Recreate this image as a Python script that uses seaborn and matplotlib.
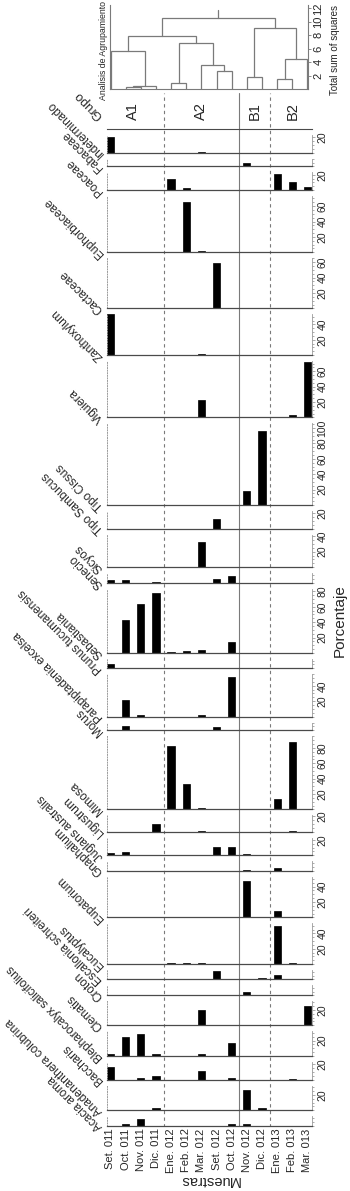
import numpy as np
import pandas as pd
import matplotlib
matplotlib.use('Agg')
import matplotlib.pyplot as plt
from matplotlib.ticker import MultipleLocator
from matplotlib import font_manager
import seaborn as sns

samples = ['Set. 011', 'Oct. 011', 'Nov. 011', 'Dic. 011', 'Ene. 012', 'Feb. 012', 'Mar. 012',
           'Set. 012', 'Oct. 012', 'Nov. 012', 'Dic. 012', 'Ene. 013', 'Feb. 013', 'Mar. 013']
groups = ['A1'] * 4 + ['A2'] * 5 + ['B1'] * 2 + ['B2'] * 3

# porcentajes por taxon (mismo orden que samples)
indeterminado = [21, 0, 0, 0, 0, 0, 1.3, 0, 0, 0, 0, 0, 0, 0]
fabaceae = [0, 0, 0, 0, 0, 0, 0, 0, 0, 5, 0, 0, 0.3, 0]
poaceae = [0, 0, 0, 0, 14, 2.6, 0, 0, 0, 0, 0, 20.5, 10.5, 4.3]
euphorbiaceae = [0, 0, 0, 0, 0, 65, 1.5, 0, 0, 0, 0, 0, 0, 0]
cactaceae = [0, 0, 0, 0, 0, 0, 0, 59, 0, 0, 0, 0, 0, 0]
zanthoxylum = [53, 0, 0, 0, 0, 0, 1.3, 0, 0, 0, 0, 0, 0, 0]
viguiera = [0, 0, 0, 0, 0, 0, 22, 0, 0, 0, 0, 0, 2.5, 72]
tipo_cissus = [0, 0, 0, 0, 0, 0, 0, 0, 0, 18, 96.5, 0, 0.3, 0]
tipo_sambucus = [0, 0, 0, 0, 0, 0, 0, 13, 0, 0, 0, 0, 0, 0]
sicyos = [0, 0, 0, 0, 0, 0, 32.5, 0, 0, 0, 0, 0, 0.3, 0]
senecio = [3.9, 3.9, 0, 1.7, 0, 0, 0, 5.2, 9.5, 0, 0, 0, 0, 0]
sebastiania = [0, 43, 64, 77.5, 1.7, 2.6, 4.3, 0, 14, 0.3, 0, 0, 0, 0]
prunus = [5.2, 0, 0, 0, 0, 0, 0, 0, 0, 0, 0, 0, 0, 0]
parapiptadenia = [0, 21.6, 2.2, 0, 0, 0, 2.2, 0, 51, 0, 0, 0, 0, 0]
morus = [0, 5.2, 0, 0, 0, 0, 0, 3.9, 0, 0, 0, 0, 0, 0]
mimosa = [0, 0, 0, 0, 83, 32.5, 1.7, 0, 0, 0, 0, 13.9, 88, 0]
ligustrum = [0, 0, 0, 10.4, 0, 0, 0.3, 0, 0, 0, 0, 0, 0.3, 0]
juglans = [2.6, 4.8, 0, 0, 0, 0, 0, 10.8, 10.8, 1.3, 0, 0, 0, 0]
gnaphalium = [0, 0, 0, 0, 0, 0, 0, 0, 0, 0.9, 0, 3.9, 0, 0]
eupatorium = [0, 0, 0, 0, 0, 0, 0, 0, 0, 47, 0, 8.2, 0, 0]
eucalyptus = [0, 0, 0, 0, 1.7, 1.7, 1.7, 0, 0, 0, 0, 50, 1.7, 0]
escallonia = [0, 0, 0, 0, 0, 0, 0, 10.8, 0, 0, 1.7, 6, 0, 0]
croton = [0, 0, 0, 0, 0, 0, 0, 0, 0, 4.8, 0, 0, 0, 0]
clematis = [0, 0, 0, 0, 0, 0, 19.5, 0, 0, 0, 0, 0, 0.5, 25]
blepharocalyx = [2.2, 24.7, 29, 3, 0, 0, 3, 0, 16.5, 0, 0, 0, 0, 0]
baccharis = [16, 0, 1.7, 4.8, 0, 0, 11.7, 0, 2.6, 0, 0, 0, 0.3, 0]
anadenanthera = [0, 0, 0, 2.6, 0, 0.2, 0.2, 0, 0, 26, 3.5, 0, 0, 0]
acacia = [0, 2.6, 8.7, 0, 0, 0, 0, 0, 2.6, 1.7, 0, 0, 0, 0]

taxa = [
    ('Indeterminado', indeterminado), ('Fabaceae', fabaceae), ('Poaceae', poaceae),
    ('Euphorbiaceae', euphorbiaceae), ('Cactaceae', cactaceae), ('Zanthoxylum', zanthoxylum),
    ('Viguiera', viguiera), ('Tipo Cissus', tipo_cissus), ('Tipo Sambucus', tipo_sambucus),
    ('Sicyos', sicyos), ('Senecio', senecio), ('Sebastiania', sebastiania),
    ('Prunus tucumanensis', prunus), ('Parapiptadenia excelsa', parapiptadenia), ('Morus', morus),
    ('Mimosa', mimosa), ('Ligustrum', ligustrum), ('Juglans australis', juglans),
    ('Gnaphalium', gnaphalium), ('Eupatorium', eupatorium), ('Eucalyptus', eucalyptus),
    ('Escallonia schreiteri', escallonia), ('Croton', croton), ('Clematis', clematis),
    ('Blepharocalyx salicifolius', blepharocalyx), ('Baccharis', baccharis),
    ('Anadenanthera colubrina', anadenanthera), ('Acacia aroma', acacia),
]

# analisis de agrupamiento: (cluster a, cluster b, altura)
merges = [(1, 2, 0.25), (14, 3, 0.5), (0, 15, 5.6), (4, 5, 0.95), (7, 8, 2.7),
          (6, 18, 3.5), (17, 19, 6.8), (16, 20, 7.9), (9, 10, 1.75), (11, 12, 1.45),
          (23, 13, 4.4), (22, 24, 9.15), (21, 25, 10.6)]
root_top = 11.8

# layout (pixels)
W, H = 350, 1191
panel_top = [23, 10, 23, 73, 65, 53, 73, 106, 23, 42, 13, 83, 12, 55, 10, 95, 21, 23, 12,
             53, 53, 12, 13, 31, 32, 23, 32, 12]
px_per_pct = 0.77
gap = 6
x_left, x_right = 107, 312
xlim = (-0.23, 13.3)

sns.set_style('white')
names = {f.name for f in font_manager.fontManager.ttflist}
base = 'Liberation Sans Narrow' if 'Liberation Sans Narrow' in names else 'Liberation Sans'
plt.rcParams['font.family'] = [base, 'DejaVu Sans']

line_col = '#7a7a7a'
axis_col = '#4a4a4a'


def rect(x0, y0, x1, y1):
    return [x0 / W, 1 - y1 / H, (x1 - x0) / W, (y1 - y0) / H]


fig = plt.figure(figsize=(W / 100, H / 100), dpi=100)

# dendrograma
axd = fig.add_axes(rect(110, 5, 308, 89))
n = len(samples)
xpos = {i: float(i) for i in range(n)}
hgt = {i: 0.0 for i in range(n)}
for k, (a, b, h) in enumerate(merges):
    axd.plot([xpos[a], xpos[a], xpos[b], xpos[b]], [hgt[a], h, h, hgt[b]],
             color=line_col, lw=0.9, solid_joinstyle='miter')
    xpos[n + k] = (xpos[a] + xpos[b]) / 2
    hgt[n + k] = h
last = n + len(merges) - 1
axd.plot([xpos[last], xpos[last]], [hgt[last], root_top], color=line_col, lw=0.9)
axd.set_xlim(-0.04, 13.04)
axd.set_ylim(0, 12.5)
axd.set_facecolor('none')
axd.spines['top'].set_visible(False)
for s in ['left', 'bottom', 'right']:
    axd.spines[s].set_color(line_col)
    axd.spines[s].set_linewidth(0.8)
axd.set_xticks([])
axd.yaxis.tick_right()
axd.set_yticks(range(2, 13, 2))
axd.tick_params(axis='y', direction='out', length=2.5, width=0.6, color=line_col,
                labelsize=8, pad=1.5, labelrotation=90)
for t in axd.get_yticklabels():
    t.set_va('center')
fig.text(335 / W, 1 - 50 / H, 'Total sum of squares', rotation=90, ha='center', va='center', fontsize=7)
fig.text(104 / W, 1 - 50 / H, 'Analisis de Agrupamiento', rotation=90, ha='center', va='center', fontsize=6.3)

# lineas divisorias de grupos
axv = fig.add_axes(rect(x_left, 93, x_right, 1127), zorder=-1)
axv.set_xlim(xlim)
axv.set_ylim(0, 1)
axv.axis('off')
for i in range(n - 1):
    if groups[i] != groups[i + 1]:
        if groups[i][0] != groups[i + 1][0]:
            axv.axvline(i + 0.5, color=line_col, lw=0.8)
        else:
            axv.axvline(i + 0.5, color=line_col, lw=0.8, ls=(0, (3, 3)))

# fila de grupos
axg = fig.add_axes(rect(x_left, 93, x_right, 129))
axg.set_xlim(xlim)
axg.set_ylim(0, 1)
axg.set_facecolor('none')
for s in ['top', 'left', 'right']:
    axg.spines[s].set_visible(False)
axg.spines['bottom'].set_color(axis_col)
axg.spines['bottom'].set_linewidth(0.8)
axg.set_xticks([])
axg.set_yticks([])
for g in dict.fromkeys(groups):
    idx = [i for i, gg in enumerate(groups) if gg == g]
    axg.text(np.mean(idx), 0.5, g, rotation=90, ha='center', va='center', fontsize=10.5)
axg.annotate('Grupo', xy=(0, 0.45), xycoords='axes fraction', xytext=(-1, 0),
             textcoords='offset points', rotation=135, rotation_mode='anchor',
             ha='left', va='bottom', fontsize=9)

# paneles de taxones
y = 135
axes = []
for (name, vals), top in zip(taxa, panel_top):
    h = top * px_per_pct
    ax = fig.add_axes(rect(x_left, y, x_right, y + h))
    y = y + h + gap
    df = pd.DataFrame({'muestra': samples, 'pct': vals})
    sns.barplot(data=df, x='muestra', y='pct', order=samples, color='black', saturation=1,
                width=0.48, errorbar=None, edgecolor='black', linewidth=0.5, ax=ax)
    ax.set_xlim(xlim)
    ax.set_ylim(0, top)
    ax.set_xlabel('')
    ax.set_ylabel('')
    ax.set_facecolor('none')
    ax.spines['top'].set_visible(False)
    ax.spines['left'].set_color('#9a9a9a')
    ax.spines['left'].set_linestyle(':')
    ax.spines['left'].set_linewidth(0.7)
    ax.spines['right'].set_color('#9a9a9a')
    ax.spines['right'].set_linewidth(0.6)
    ax.spines['bottom'].set_color(axis_col)
    ax.spines['bottom'].set_linewidth(0.9)
    ax.yaxis.tick_right()
    ax.set_yticks(list(range(20, int(top) + 1, 20)))
    ax.yaxis.set_minor_locator(MultipleLocator(5))
    ax.tick_params(axis='y', which='both', direction='out', color='#8a8a8a', width=0.5)
    ax.tick_params(axis='y', which='major', length=2.5, labelsize=7.5, pad=1.5, labelrotation=90)
    ax.tick_params(axis='y', which='minor', length=1.5)
    for t in ax.get_yticklabels():
        t.set_va('center')
    ax.set_xticks([])
    ax.annotate(name, xy=(0, 0), xycoords='axes fraction', xytext=(-1, 1),
                textcoords='offset points', rotation=135, rotation_mode='anchor',
                ha='left', va='bottom', fontsize=8.5)
    axes.append(ax)

ax = axes[-1]
ax.set_xticks(range(n))
ax.set_xticklabels(samples, rotation=90, fontsize=8)
ax.tick_params(axis='x', length=0, pad=2)

fig.text(209 / W, 1 - 1180 / H, 'Muestras', rotation=180, ha='center', va='center', fontsize=10.5)
fig.text(340 / W, 1 - 621 / H, 'Porcentaje', rotation=90, ha='center', va='center', fontsize=11)

fig.savefig('out.png', dpi=100)
